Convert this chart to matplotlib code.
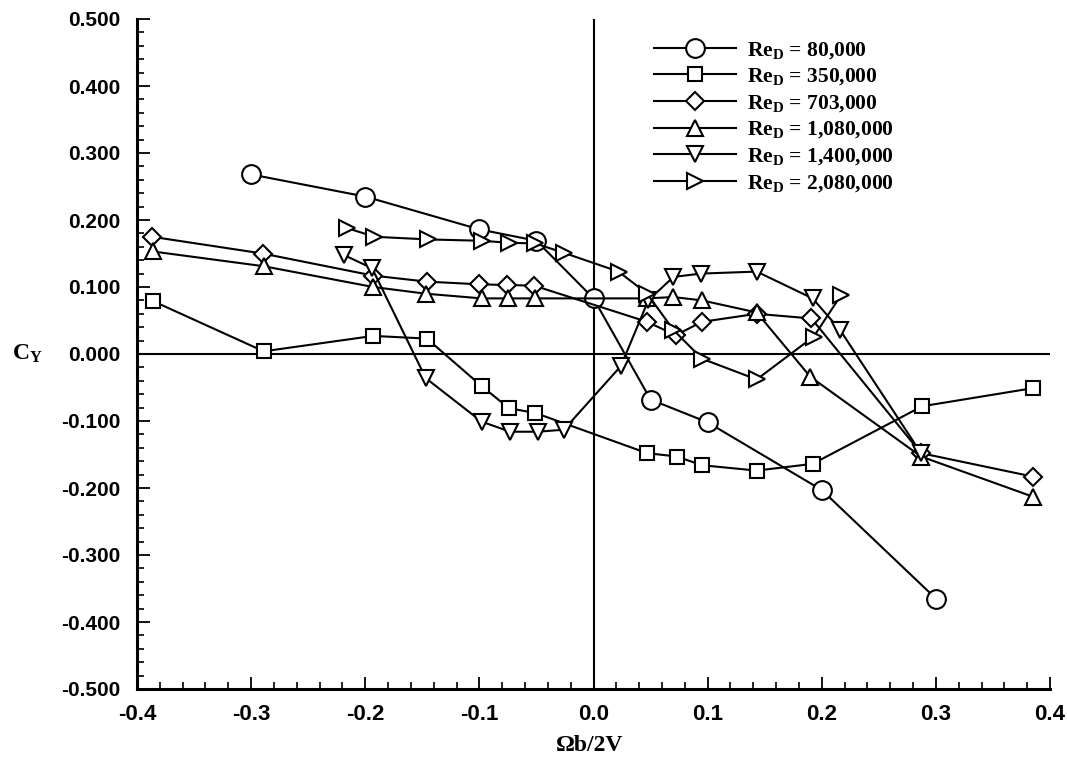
import matplotlib
matplotlib.use("Agg")
import matplotlib.pyplot as plt
from matplotlib.ticker import MultipleLocator, FormatStrFormatter

# ---------------- data ----------------
labels = [r"Re$_{\mathregular{D}}$ = 80,000", r"Re$_{\mathregular{D}}$ = 350,000",
          r"Re$_{\mathregular{D}}$ = 703,000", r"Re$_{\mathregular{D}}$ = 1,080,000",
          r"Re$_{\mathregular{D}}$ = 1,400,000", r"Re$_{\mathregular{D}}$ = 2,080,000"]
markers = ["o", "s", "D", "^", "v", ">"]

x_80k = [-0.30, -0.20, -0.10, -0.05, 0.00, 0.05, 0.10, 0.20, 0.30]
y_80k = [0.268, 0.235, 0.186, 0.169, 0.083, -0.068, -0.102, -0.203, -0.365]

x_350k = [-0.386, -0.289, -0.193, -0.146, -0.098, -0.074, -0.051, 0.047, 0.073, 0.095, 0.143, 0.192, 0.288, 0.385]
y_350k = [0.079, 0.004, 0.027, 0.023, -0.048, -0.081, -0.088, -0.148, -0.153, -0.166, -0.174, -0.164, -0.078, -0.051]

x_703k = [-0.387, -0.290, -0.193, -0.146, -0.100, -0.076, -0.052, 0.047, 0.072, 0.095, 0.143, 0.191, 0.287, 0.385]
y_703k = [0.175, 0.150, 0.117, 0.108, 0.104, 0.103, 0.102, 0.048, 0.028, 0.048, 0.060, 0.053, -0.148, -0.183]

x_1080k = [-0.386, -0.289, -0.193, -0.147, -0.098, -0.075, -0.051, 0.047, 0.070, 0.095, 0.143, 0.190, 0.287, 0.385]
y_1080k = [0.153, 0.131, 0.100, 0.090, 0.083, 0.083, 0.083, 0.083, 0.085, 0.080, 0.062, -0.034, -0.153, -0.213]

x_1400k = [-0.219, -0.194, -0.147, -0.098, -0.073, -0.049, -0.026, 0.024, 0.048, 0.070, 0.094, 0.143, 0.192, 0.216, 0.287]
y_1400k = [0.148, 0.128, -0.036, -0.101, -0.116, -0.116, -0.113, -0.018, 0.080, 0.115, 0.120, 0.123, 0.083, 0.036, -0.148]

x_2080k = [-0.216, -0.192, -0.145, -0.098, -0.074, -0.051, -0.026, 0.022, 0.047, 0.070, 0.095, 0.143, 0.193, 0.217]
y_2080k = [0.188, 0.175, 0.171, 0.169, 0.166, 0.165, 0.151, 0.123, 0.090, 0.036, -0.007, -0.038, 0.026, 0.088]

xs = [x_80k, x_350k, x_703k, x_1080k, x_1400k, x_2080k]
ys = [y_80k, y_350k, y_703k, y_1080k, y_1400k, y_2080k]
msizes = [13.5, 10.5, 9.0, 11.5, 11.5, 11.5]

x_ticks = [-0.4, -0.3, -0.2, -0.1, 0.0, 0.1, 0.2, 0.3, 0.4]

# ---------------- style ----------------
plt.rcParams["mathtext.fontset"] = "custom"
plt.rcParams["mathtext.rm"] = "Liberation Serif:bold"
plt.rcParams["mathtext.bf"] = "Liberation Serif:bold"
plt.rcParams["mathtext.it"] = "Liberation Serif:bold"

fig = plt.figure(figsize=(10.67, 7.62), dpi=100)
ax = fig.add_axes([137 / 1067, 1 - 689 / 762, (1050 - 137) / 1067, (689 - 19) / 762])

ax.axhline(0, color="black", lw=1.5, zorder=1)
ax.axvline(0, color="black", lw=1.5, zorder=1)

for x, y, m, ms, lab in zip(xs, ys, markers, msizes, labels):
    ax.plot(x, y, marker=m, ms=ms, mfc="white", mec="black", mew=1.5,
            color="black", lw=1.5, label=lab, zorder=3)

ax.set_xlim(-0.4, 0.4)
ax.set_ylim(-0.5, 0.5)
ax.set_xticks(x_ticks)
ax.xaxis.set_minor_locator(MultipleLocator(0.02))
ax.yaxis.set_major_locator(MultipleLocator(0.1))
ax.yaxis.set_minor_locator(MultipleLocator(0.02))
ax.xaxis.set_major_formatter(FormatStrFormatter("%.1f"))
ax.yaxis.set_major_formatter(FormatStrFormatter("%.3f"))

for s in ["top", "right"]:
    ax.spines[s].set_visible(False)
for s in ["left", "bottom"]:
    ax.spines[s].set_linewidth(2.2)

ax.tick_params(which="major", direction="in", length=9, width=1.3, pad=12)
ax.tick_params(axis="y", which="major", labelsize=15)
ax.tick_params(axis="x", which="major", labelsize=16, pad=11)
ax.tick_params(which="minor", direction="in", length=5, width=1.2)
for lbl in ax.get_xticklabels() + ax.get_yticklabels():
    lbl.set_fontfamily("Liberation Sans")
    lbl.set_fontweight("bold")

ax.text(-0.12, 0.5, r"C$_{\mathregular{Y}}$", transform=ax.transAxes,
        fontsize=17, fontfamily="Liberation Serif", fontweight="bold",
        ha="center", va="center")
ax.text(0.496, -0.084, "Ωb/2V", transform=ax.transAxes,
        fontsize=17, fontfamily="Liberation Serif", fontweight="bold",
        ha="center", va="center")

leg = ax.legend(loc="upper left", bbox_to_anchor=(0.566, 0.969), frameon=False,
                handlelength=3.8, handletextpad=0.55, labelspacing=0.27,
                borderpad=0, borderaxespad=0,
                prop={"family": "Liberation Serif", "weight": "bold", "size": 15.5})

fig.savefig("out.png", dpi=100)
